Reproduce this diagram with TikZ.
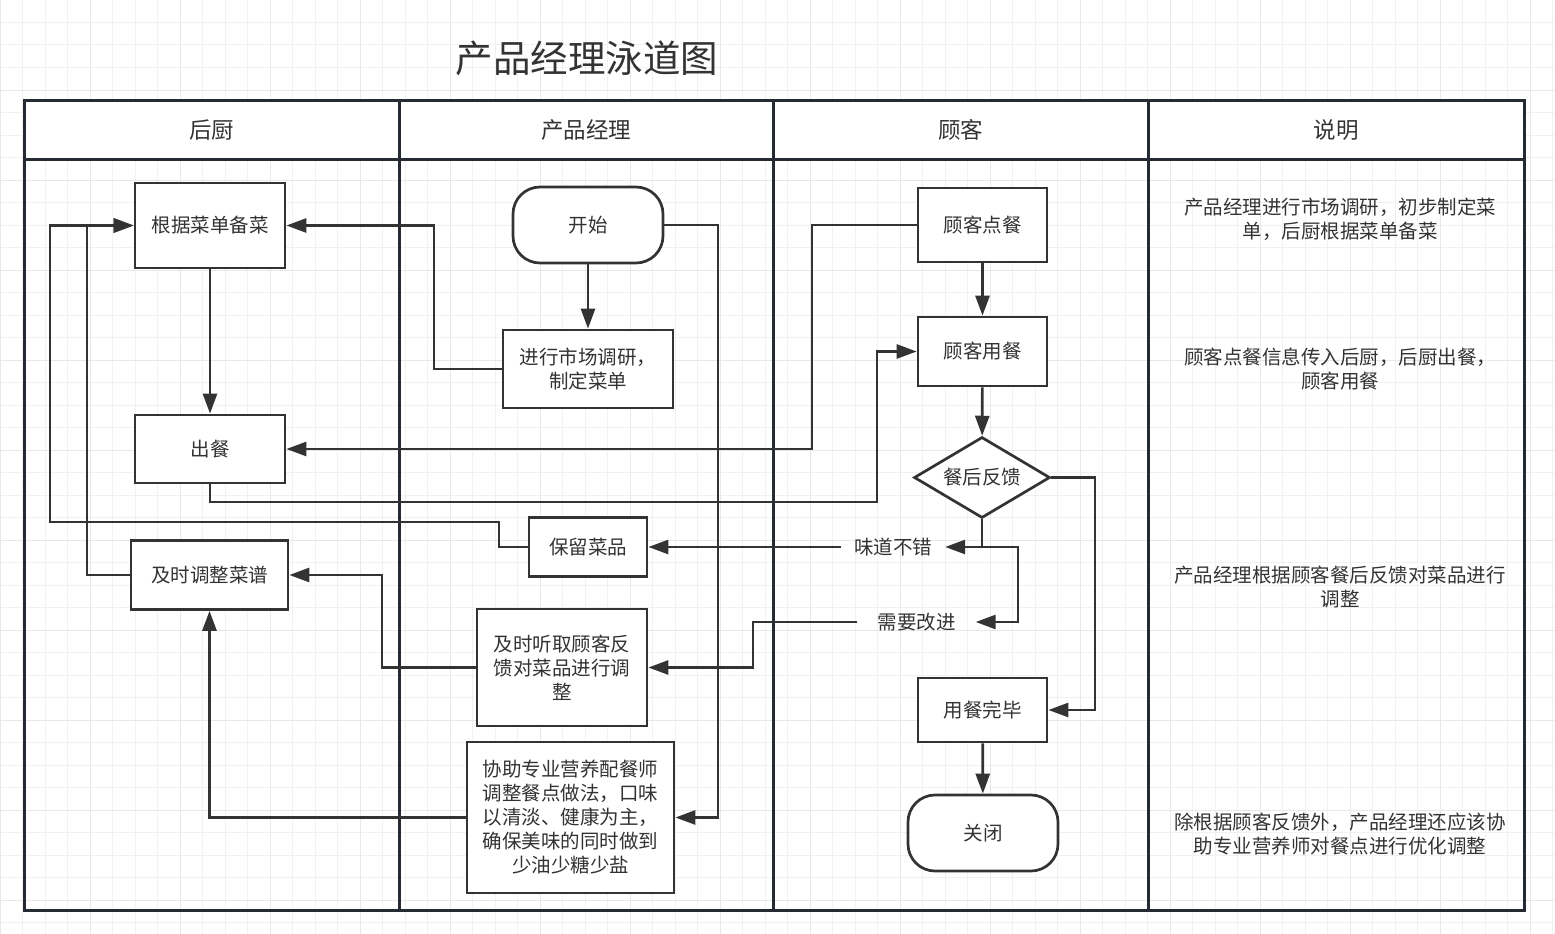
\documentclass[tikz,border=0pt]{standalone}
\usepackage{fontspec}
\setmainfont{Noto Sans CJK SC}
\usetikzlibrary{arrows.meta,shapes.geometric}

\definecolor{inkgray}{HTML}{333333}
\definecolor{lanegray}{HTML}{262B33}
\definecolor{gridminor}{HTML}{F1F1F1}
\definecolor{gridmajor}{HTML}{E8E8E8}

\begin{document}
\begin{tikzpicture}[
        x=1pt, y=-1pt,
        every node/.style={text=inkgray},
        lane/.style={draw=lanegray, line width=3pt},
        stepbox/.style={rectangle, draw=inkgray, fill=white, line width=2.7pt, inner sep=0pt, align=center, font=\fontsize{19.5}{24}\selectfont},
        endbox/.style={stepbox, rounded corners=27pt},
        askbox/.style={diamond, aspect=1.7, draw=inkgray, fill=white, line width=2.7pt, inner sep=0pt, font=\fontsize{19.5}{24}\selectfont},
        branch/.style={inner ysep=4pt, font=\fontsize{19.5}{24}\selectfont},
        note/.style={align=center, font=\fontsize{19.5}{24}\selectfont},
        arr/.style={draw=inkgray, line width=2.7pt, -{Triangle[length=20pt,width=14pt]}},
        ]
        \useasboundingbox (0,0) rectangle (1555,934);
        \fill[white] (0,0) rectangle (1555,934);

        % background grid
        \foreach \gx in {0,22.5,...,1555} \draw[gridminor, line width=1pt] (\gx,0) -- (\gx,934);
        \foreach \gy in {0,22.5,...,934} \draw[gridminor, line width=1pt] (0,\gy) -- (1555,\gy);
        \foreach \gx in {0,90,...,1555} \draw[gridmajor, line width=1pt] (\gx,0) -- (\gx,934);
        \foreach \gy in {0,90,...,934} \draw[gridmajor, line width=1pt] (0,\gy) -- (1555,\gy);

        \node[font=\fontsize{37.5}{44}\selectfont] (title) at (587,58) {产品经理泳道图};

        % pool and lanes
        \filldraw[lane, fill=white] (24,100) rectangle (1524,159.5);
        \draw[lane] (24,100) rectangle (1524,910);
        \draw[lane] (399,100) -- (399,910);
        \draw[lane] (773,100) -- (773,910);
        \draw[lane] (1148.5,100) -- (1148.5,910);

        \node[font=\fontsize{22.5}{26}\selectfont] (kitchenhd) at (211.5,130) {后厨};
        \node[font=\fontsize{22.5}{26}\selectfont] (pmhd) at (586,130) {产品经理};
        \node[font=\fontsize{22.5}{26}\selectfont] (guesthd) at (960.5,130) {顾客};
        \node[font=\fontsize{22.5}{26}\selectfont] (notehd) at (1336,130) {说明};

        % Kitchen
        \node[stepbox, minimum width=150pt, minimum height=85pt] (prep) at (210,225.5) {根据菜单备菜};
        \node[stepbox, minimum width=150pt, minimum height=68pt] (serve) at (210,449) {出餐};
        \node[stepbox, minimum width=157pt, minimum height=69pt] (adjust) at (209.5,575) {及时调整菜谱};

        % Product manager
        \node[endbox, minimum width=150pt, minimum height=76pt] (start) at (588,225) {开始};
        \node[stepbox, minimum width=170pt, minimum height=78pt] (research) at (588,369) {进行市场调研，\\制定菜单};
        \node[stepbox, minimum width=118pt, minimum height=59pt] (keep) at (588,547) {保留菜品};
        \node[stepbox, minimum width=170pt, minimum height=117pt] (listen) at (562,667.5) {及时听取顾客反\\馈对菜品进行调\\整};
        \node[stepbox, minimum width=207pt, minimum height=151pt] (assist) at (570.5,817.5) {协助专业营养配餐师\\调整餐点做法，口味\\以清淡、健康为主，\\确保美味的同时做到\\少油少糖少盐};

        % Guest
        \node[stepbox, minimum width=129pt, minimum height=74pt] (order) at (982.5,225) {顾客点餐};
        \node[stepbox, minimum width=129pt, minimum height=69pt] (eat) at (982.5,351.5) {顾客用餐};
        \node[askbox, minimum width=136pt, minimum height=81pt] (feedback) at (982,477.5) {餐后反馈};
        \node[branch, inner xsep=13pt] (good) at (893,547) {味道不错};
        \node[branch, inner xsep=20pt] (bad) at (916.5,622) {需要改进};
        \node[stepbox, minimum width=129pt, minimum height=64pt] (done) at (982.5,710) {用餐完毕};
        \node[endbox, minimum width=150pt, minimum height=76pt] (close) at (983,833) {关闭};

        % Notes
        \node[note] (note1) at (1340,219) {产品经理进行市场调研，初步制定菜\\单，后厨根据菜单备菜};
        \node[note] (note2) at (1340,369) {顾客点餐信息传入后厨，后厨出餐，\\顾客用餐};
        \node[note] (note3) at (1340,587) {产品经理根据顾客餐后反馈对菜品进行\\调整};
        \node[note] (note4) at (1340,834) {除根据顾客反馈外，产品经理还应该协\\助专业营养师对餐点进行优化调整};

        % menu is made
        \draw[arr] (start) -- (research);
        \draw[arr] (research.west) -- (434,369) |- (prep.east);
        \draw[arr] (start.east) -- (718,225) |- (assist.east);
        \draw[arr] (prep) -- (serve);

        % ordering and eating
        \draw[arr] (order.west) -- (812,225) |- (serve.east);
        \draw[arr] (serve.south) |- (877,502) |- (eat.west);
        \draw[arr] (order) -- (eat);
        \draw[arr] (eat) -- (feedback);

        % feedback
        \draw[arr] (feedback.south) |- (good.east);
        \draw[arr] (feedback.south) |- (1018,547) |- (bad.east);
        \draw[arr] (feedback.east) -- (1095,477.5) |- (done.east);
        \draw[arr] (done) -- (close);

        \draw[arr] (good.west) -- (keep.east);
        \draw[arr] (keep.west) -- (499,547) |- (50,522) |- (prep.west);
        \draw[arr] (bad.west) -- (753,622) |- (listen.east);
        \draw[arr] (listen.west) -- (382,667.5) |- (adjust.east);
        \draw[arr] (adjust.west) -- (87,575) |- (prep.west);
        \draw[arr] (assist.west) -| (adjust.south);

    \end{tikzpicture}
\end{document}
